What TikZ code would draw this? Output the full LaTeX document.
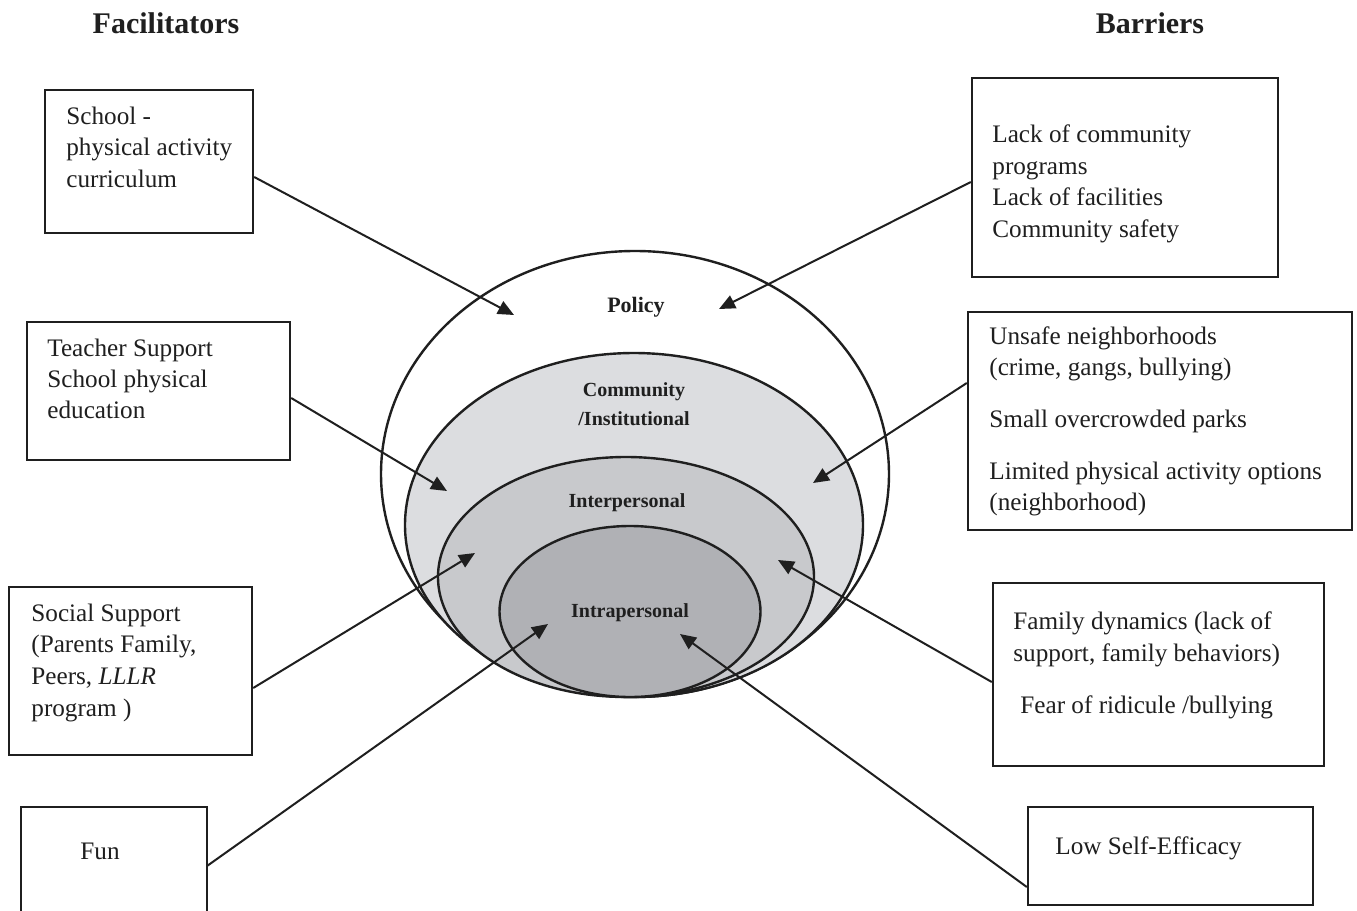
\documentclass[tikz,border=0pt]{standalone}
\usepackage{fontspec}
\setmainfont{Liberation Serif}
\usetikzlibrary{arrows.meta}
\definecolor{ink}{HTML}{1F1F1F}
\definecolor{commfill}{HTML}{DCDDE0}
\definecolor{interfill}{HTML}{C8C9CC}
\definecolor{intrafill}{HTML}{B0B1B5}
\begin{document}
\begin{tikzpicture}[x=0.5pt,y=-0.5pt,
  box/.style={draw=ink, line width=1.2pt, inner sep=0pt, rectangle},
  txt/.style={anchor=base west, inner sep=0pt, font=\fontsize{12.6}{15.75}\selectfont, text=ink},
  head/.style={anchor=base, inner sep=0pt, font=\fontsize{15}{18}\selectfont\bfseries, text=ink},
  lvl/.style={anchor=base, inner sep=0pt, font=\fontsize{10}{12}\selectfont\bfseries, text=ink},
  ring/.style={draw=ink, line width=1.2pt},
  arr/.style={draw=ink, line width=1pt, -{Triangle[length=8pt,width=7pt]}}
]
\useasboundingbox[fill=white] (0,0) rectangle (1357,911);

% headers
\node[head] (hfac) at (166,33) {Facilitators};
\node[head] (hbar) at (1150,33) {Barriers};

% nested ellipses
\draw[ring, fill=white] (635,474) ellipse [x radius=254, y radius=223];
\draw[ring, fill=commfill] (634,525) ellipse [x radius=229, y radius=172];
\draw[ring, fill=interfill] (626,577) ellipse [x radius=188, y radius=120];
\draw[ring, fill=intrafill] (630,611.5) ellipse [x radius=130.5, y radius=85.5];

\node[lvl, font=\fontsize{11}{13}\selectfont\bfseries] (lpol) at (636,312) {Policy};
\node[lvl] (lcom1) at (634,396) {Community};
\node[lvl] (lcom2) at (634,425) {/Institutional};
\node[lvl] (lint) at (627,507) {Interpersonal};
\node[lvl] (lintra) at (630,617) {Intrapersonal};

% facilitator boxes
\node[box, minimum width=104pt, minimum height=71.5pt] (sch) at (149,161.5) {};
\node[txt] (sch1) at (66,124) {School -};
\node[txt] (sch2) at (66,155) {physical activity};
\node[txt] (sch3) at (66,187) {curriculum};

\node[box, minimum width=131.5pt, minimum height=69pt] (tea) at (158.5,391) {};
\node[txt] (tea1) at (47,356) {Teacher Support};
\node[txt] (tea2) at (47,387) {School physical};
\node[txt] (tea3) at (47,418) {education};

\node[box, minimum width=121.5pt, minimum height=84pt] (soc) at (130.5,671) {};
\node[txt] (soc1) at (31,621) {Social Support};
\node[txt] (soc2) at (31,652) {(Parents Family,};
\node[txt] (soc3) at (31,684) {Peers, \textit{LLLR}};
\node[txt] (soc4) at (31,716) {program )};

\draw[draw=ink, line width=1.2pt] (21,915) -- (21,807) -- (207,807) -- (207,915);
\node[txt] (fun) at (80,859) {Fun};
\coordinate (funE) at (207,866);

% barrier boxes
\node[box, minimum width=153pt, minimum height=99.5pt] (b1) at (1125,177.5) {};
\node[txt] (b1a) at (992,142) {Lack of community};
\node[txt] (b1b) at (992,174) {programs};
\node[txt] (b1c) at (992,205) {Lack of facilities};
\node[txt] (b1d) at (992,237) {Community safety};

\node[box, minimum width=192pt, minimum height=109pt] (b2) at (1160,421) {};
\node[txt] (b2a) at (989,344) {Unsafe neighborhoods};
\node[txt] (b2b) at (989,375) {(crime, gangs, bullying)};
\node[txt] (b2c) at (989,427) {Small overcrowded parks};
\node[txt] (b2d) at (989,479) {Limited physical activity options};
\node[txt] (b2e) at (989,510) {(neighborhood)};

\node[box, minimum width=165.5pt, minimum height=91.5pt] (fam) at (1158.5,674.5) {};
\node[txt] (fam1) at (1013,629) {Family dynamics (lack of};
\node[txt] (fam2) at (1013,661) {support, family behaviors)};
\node[txt] (fam3) at (1020,713) {Fear of ridicule /bullying};

\node[box, minimum width=142.5pt, minimum height=49pt] (lse) at (1170.5,856) {};
\node[txt] (lse1) at (1055,854) {Low Self-Efficacy};

% arrow targets
\coordinate (t1) at (514,315);
\coordinate (t2) at (719,309);
\coordinate (t3) at (447,491);
\coordinate (t4) at (813,483);
\coordinate (t5) at (475,553);
\coordinate (t6) at (778,560);
\coordinate (t7) at (548,624);
\coordinate (t8) at (680,634);

% arrows
\draw[arr] (sch.east |- 0,177) -- (t1);
\draw[arr] (b1.west |- 0,182) -- (t2);
\draw[arr] (tea.east |- 0,398) -- (t3);
\draw[arr] (b2.west |- 0,383) -- (t4);
\draw[arr] (soc.east |- 0,688) -- (t5);
\draw[arr] (fam.west |- 0,682) -- (t6);
\draw[arr] (funE) -- (t7);
\draw[arr] (lse.west |- 0,887) -- (t8);
\end{tikzpicture}
\end{document}
